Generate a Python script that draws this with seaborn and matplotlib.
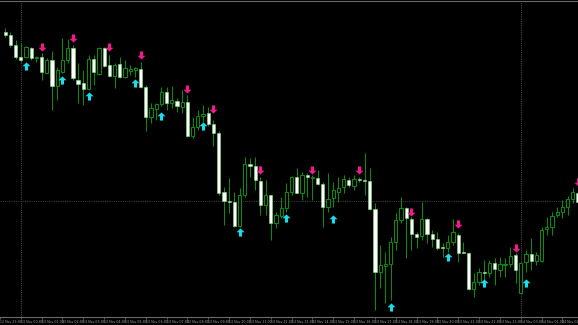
import numpy as np
import pandas as pd
import matplotlib
matplotlib.use("Agg")
import matplotlib.pyplot as plt
from matplotlib.path import Path
import seaborn as sns

# ---------------- data (M15 bars) ----------------
open_ = [1.2968, 1.2965, 1.2955, 1.2943, 1.2943, 1.2952, 1.2942, 1.2943, 1.2927, 1.2940,
         1.2914, 1.2928, 1.2940, 1.2952, 1.2920, 1.2917, 1.2911, 1.2941, 1.2926, 1.2952,
         1.2935, 1.2924, 1.2936, 1.2923, 1.2929, 1.2930, 1.2931, 1.2913, 1.2883, 1.2891,
         1.2896, 1.2908, 1.2897, 1.2899, 1.2893, 1.2898, 1.2864, 1.2873, 1.2884, 1.2887,
         1.2876, 1.2867, 1.2808, 1.2799, 1.2798, 1.2774, 1.2805, 1.2836, 1.2834, 1.2819,
         1.2795, 1.2805, 1.2777, 1.2784, 1.2792, 1.2808, 1.2823, 1.2807, 1.2825, 1.2822,
         1.2822, 1.2816, 1.2793, 1.2802, 1.2808, 1.2813, 1.2820, 1.2814, 1.2821, 1.2820,
         1.2819, 1.2791, 1.2728, 1.2734, 1.2736, 1.2758, 1.2780, 1.2792, 1.2781, 1.2766,
         1.2764, 1.2781, 1.2766, 1.2761, 1.2753, 1.2752, 1.2758, 1.2765, 1.2748, 1.2747,
         1.2711, 1.2718, 1.2728, 1.2727, 1.2737, 1.2730, 1.2735, 1.2736, 1.2745, 1.2707,
         1.2738, 1.2746, 1.2739, 1.2739, 1.2771, 1.2773, 1.2785, 1.2788, 1.2793, 1.2801,
         1.2807]
high = [1.2972, 1.2968, 1.2960, 1.2957, 1.2954, 1.2953, 1.2944, 1.2947, 1.2942, 1.2949,
        1.2933, 1.2962, 1.2961, 1.2955, 1.2937, 1.2930, 1.2945, 1.2945, 1.2953, 1.2953,
        1.2945, 1.2937, 1.2943, 1.2940, 1.2935, 1.2933, 1.2938, 1.2915, 1.2897, 1.2897,
        1.2913, 1.2913, 1.2914, 1.2902, 1.2910, 1.2905, 1.2883, 1.2890, 1.2895, 1.2893,
        1.2880, 1.2869, 1.2813, 1.2822, 1.2808, 1.2812, 1.2843, 1.2842, 1.2843, 1.2823,
        1.2820, 1.2805, 1.2788, 1.2803, 1.2817, 1.2824, 1.2832, 1.2828, 1.2827, 1.2825,
        1.2830, 1.2818, 1.2827, 1.2818, 1.2823, 1.2825, 1.2823, 1.2825, 1.2823, 1.2847,
        1.2832, 1.2797, 1.2755, 1.2748, 1.2763, 1.2787, 1.2803, 1.2793, 1.2783, 1.2768,
        1.2798, 1.2782, 1.2770, 1.2768, 1.2757, 1.2765, 1.2781, 1.2767, 1.2758, 1.2748,
        1.2727, 1.2732, 1.2740, 1.2740, 1.2742, 1.2743, 1.2742, 1.2753, 1.2747, 1.2738,
        1.2750, 1.2762, 1.2748, 1.2773, 1.2783, 1.2788, 1.2793, 1.2800, 1.2804, 1.2812,
        1.2817]
low = [1.2963, 1.2953, 1.2941, 1.2938, 1.2942, 1.2940, 1.2938, 1.2920, 1.2927, 1.2890,
       1.2900, 1.2927, 1.2937, 1.2920, 1.2897, 1.2895, 1.2910, 1.2915, 1.2925, 1.2933,
       1.2923, 1.2912, 1.2922, 1.2922, 1.2925, 1.2923, 1.2912, 1.2869, 1.2877, 1.2880,
       1.2894, 1.2890, 1.2892, 1.2888, 1.2887, 1.2863, 1.2862, 1.2870, 1.2878, 1.2874,
       1.2854, 1.2805, 1.2775, 1.2787, 1.2773, 1.2773, 1.2803, 1.2823, 1.2810, 1.2785,
       1.2785, 1.2760, 1.2772, 1.2782, 1.2788, 1.2805, 1.2807, 1.2800, 1.2803, 1.2800,
       1.2815, 1.2773, 1.2788, 1.2793, 1.2798, 1.2807, 1.2813, 1.2810, 1.2818, 1.2805,
       1.2790, 1.2690, 1.2712, 1.2697, 1.2700, 1.2750, 1.2777, 1.2742, 1.2750, 1.2752,
       1.2760, 1.2757, 1.2753, 1.2750, 1.2743, 1.2748, 1.2755, 1.2738, 1.2747, 1.2710,
       1.2703, 1.2715, 1.2720, 1.2723, 1.2715, 1.2723, 1.2723, 1.2733, 1.2717, 1.2707,
       1.2728, 1.2730, 1.2735, 1.2738, 1.2765, 1.2765, 1.2783, 1.2782, 1.2785, 1.2797,
       1.2795]
close = [1.2965, 1.2955, 1.2943, 1.2940, 1.2953, 1.2942, 1.2943, 1.2928, 1.2940, 1.2914,
         1.2930, 1.2940, 1.2952, 1.2922, 1.2916, 1.2911, 1.2941, 1.2928, 1.2952, 1.2934,
         1.2924, 1.2935, 1.2923, 1.2932, 1.2931, 1.2932, 1.2913, 1.2883, 1.2892, 1.2896,
         1.2908, 1.2897, 1.2900, 1.2894, 1.2898, 1.2864, 1.2873, 1.2884, 1.2886, 1.2876,
         1.2867, 1.2807, 1.2799, 1.2798, 1.2774, 1.2805, 1.2836, 1.2834, 1.2820, 1.2795,
         1.2805, 1.2777, 1.2785, 1.2792, 1.2808, 1.2823, 1.2807, 1.2825, 1.2823, 1.2823,
         1.2816, 1.2793, 1.2801, 1.2810, 1.2812, 1.2821, 1.2815, 1.2821, 1.2820, 1.2819,
         1.2791, 1.2728, 1.2735, 1.2736, 1.2758, 1.2780, 1.2792, 1.2782, 1.2766, 1.2763,
         1.2781, 1.2766, 1.2761, 1.2752, 1.2752, 1.2758, 1.2768, 1.2747, 1.2747, 1.2711,
         1.2718, 1.2728, 1.2727, 1.2737, 1.2731, 1.2736, 1.2736, 1.2744, 1.2730, 1.2737,
         1.2746, 1.2739, 1.2745, 1.2770, 1.2773, 1.2784, 1.2788, 1.2793, 1.2801, 1.2808,
         1.2798]

# signal arrows (bar index, price level)
buy_idx = [4, 11, 16, 25, 30, 38, 45, 54, 63, 74, 85, 92, 100]
buy_price = [1.29345, 1.2920, 1.29045, 1.2917, 1.28845, 1.2874, 1.2768, 1.2782,
             1.2781, 1.26935, 1.27435, 1.2717, 1.2717]
sell_idx = [7, 13, 20, 26, 35, 40, 49, 59, 68, 78, 87, 98, 110]
sell_price = [1.29535, 1.29625, 1.29535, 1.2945, 1.29115, 1.28915, 1.28305, 1.2830,
              1.2830, 1.27885, 1.27765, 1.27525, 1.28185]

# period separators / horizontal line
separator_idx = [3, 99]
hline_price = 1.2799

# time axis
bar_times = pd.date_range("2023-11-12 23:15", periods=len(open_), freq="15min")
tick_idx = list(range(-1, len(open_), 4))
tick_labels = [(bar_times[0] + pd.Timedelta(minutes=15 * i)).strftime("%d %b %H:%M")
               for i in tick_idx]

# ---------------- drawing ----------------
sns.set_theme(style="dark", rc={"axes.facecolor": "black", "figure.facecolor": "black"})
plt.rcParams['font.family'] = ['DejaVu Sans']

fig = plt.figure(figsize=(5.78, 3.25), dpi=100)
ax = fig.add_axes([0, 1 - 316.5 / 325, 1, (316.5 - 1) / 325])
ax.set_facecolor("black")

df = pd.DataFrame({"o": open_, "h": high, "l": low, "c": close})
df["i"] = np.arange(len(df))
bull = df["c"] >= df["o"]

wick_col = "#0b8a0b"
ax.vlines(df["i"], df["l"], df["h"], color=wick_col, linewidth=0.75, zorder=2)

bottom = np.minimum(df["o"], df["c"])
height = np.maximum(np.abs(df["c"] - df["o"]), 0.00008)
w = 0.62
ax.bar(df["i"][bull], height[bull], bottom=bottom[bull], width=w,
       color="black", edgecolor=wick_col, linewidth=0.75, zorder=3)
ax.bar(df["i"][~bull], height[~bull], bottom=bottom[~bull], width=w,
       color="white", edgecolor="#7fe07f", linewidth=0.4, zorder=3)

# arrow markers
up_verts = [(0, 1), (1, 0.05), (0.38, 0.05), (0.38, -1), (-0.38, -1), (-0.38, 0.05),
            (-1, 0.05), (0, 1)]
up_arrow = Path(up_verts, closed=True)
down_arrow = Path([(x, -y) for x, y in up_verts], closed=True)

sns.scatterplot(x=buy_idx, y=buy_price, marker=up_arrow, s=34, color="#19dcec",
                linewidth=0, ax=ax, zorder=4)
sns.scatterplot(x=sell_idx, y=sell_price, marker=down_arrow, s=34, color="#f21a8a",
                linewidth=0, ax=ax, zorder=4)

for s in separator_idx:
    ax.axvline(s, color="#4a4a4a", linewidth=0.8, linestyle=(0, (1, 1)), zorder=1)
ax.axhline(hline_price, color="#3a3a3a", linewidth=0.8, linestyle=(0, (1, 1)), zorder=1)

ax.set_xlim(-0.19, 110.0)
ax.set_ylim(1.26835, 1.2999)
ax.grid(False)
ax.set_yticks([])
ax.set_xticks(tick_idx)
ax.set_xticklabels(tick_labels, ha="left", fontsize=2.3, color="#a8a8a8")
ax.tick_params(axis="x", which="both", bottom=True, length=1.5, width=0.5,
               color="#808080", pad=0.8, direction="out")
for side in ["left", "right"]:
    ax.spines[side].set_visible(False)
for side in ["top", "bottom"]:
    ax.spines[side].set_visible(True)
    ax.spines[side].set_color("#6a6a6a")
    ax.spines[side].set_linewidth(0.8)

fig.savefig("out.png", dpi=100, facecolor="black")
